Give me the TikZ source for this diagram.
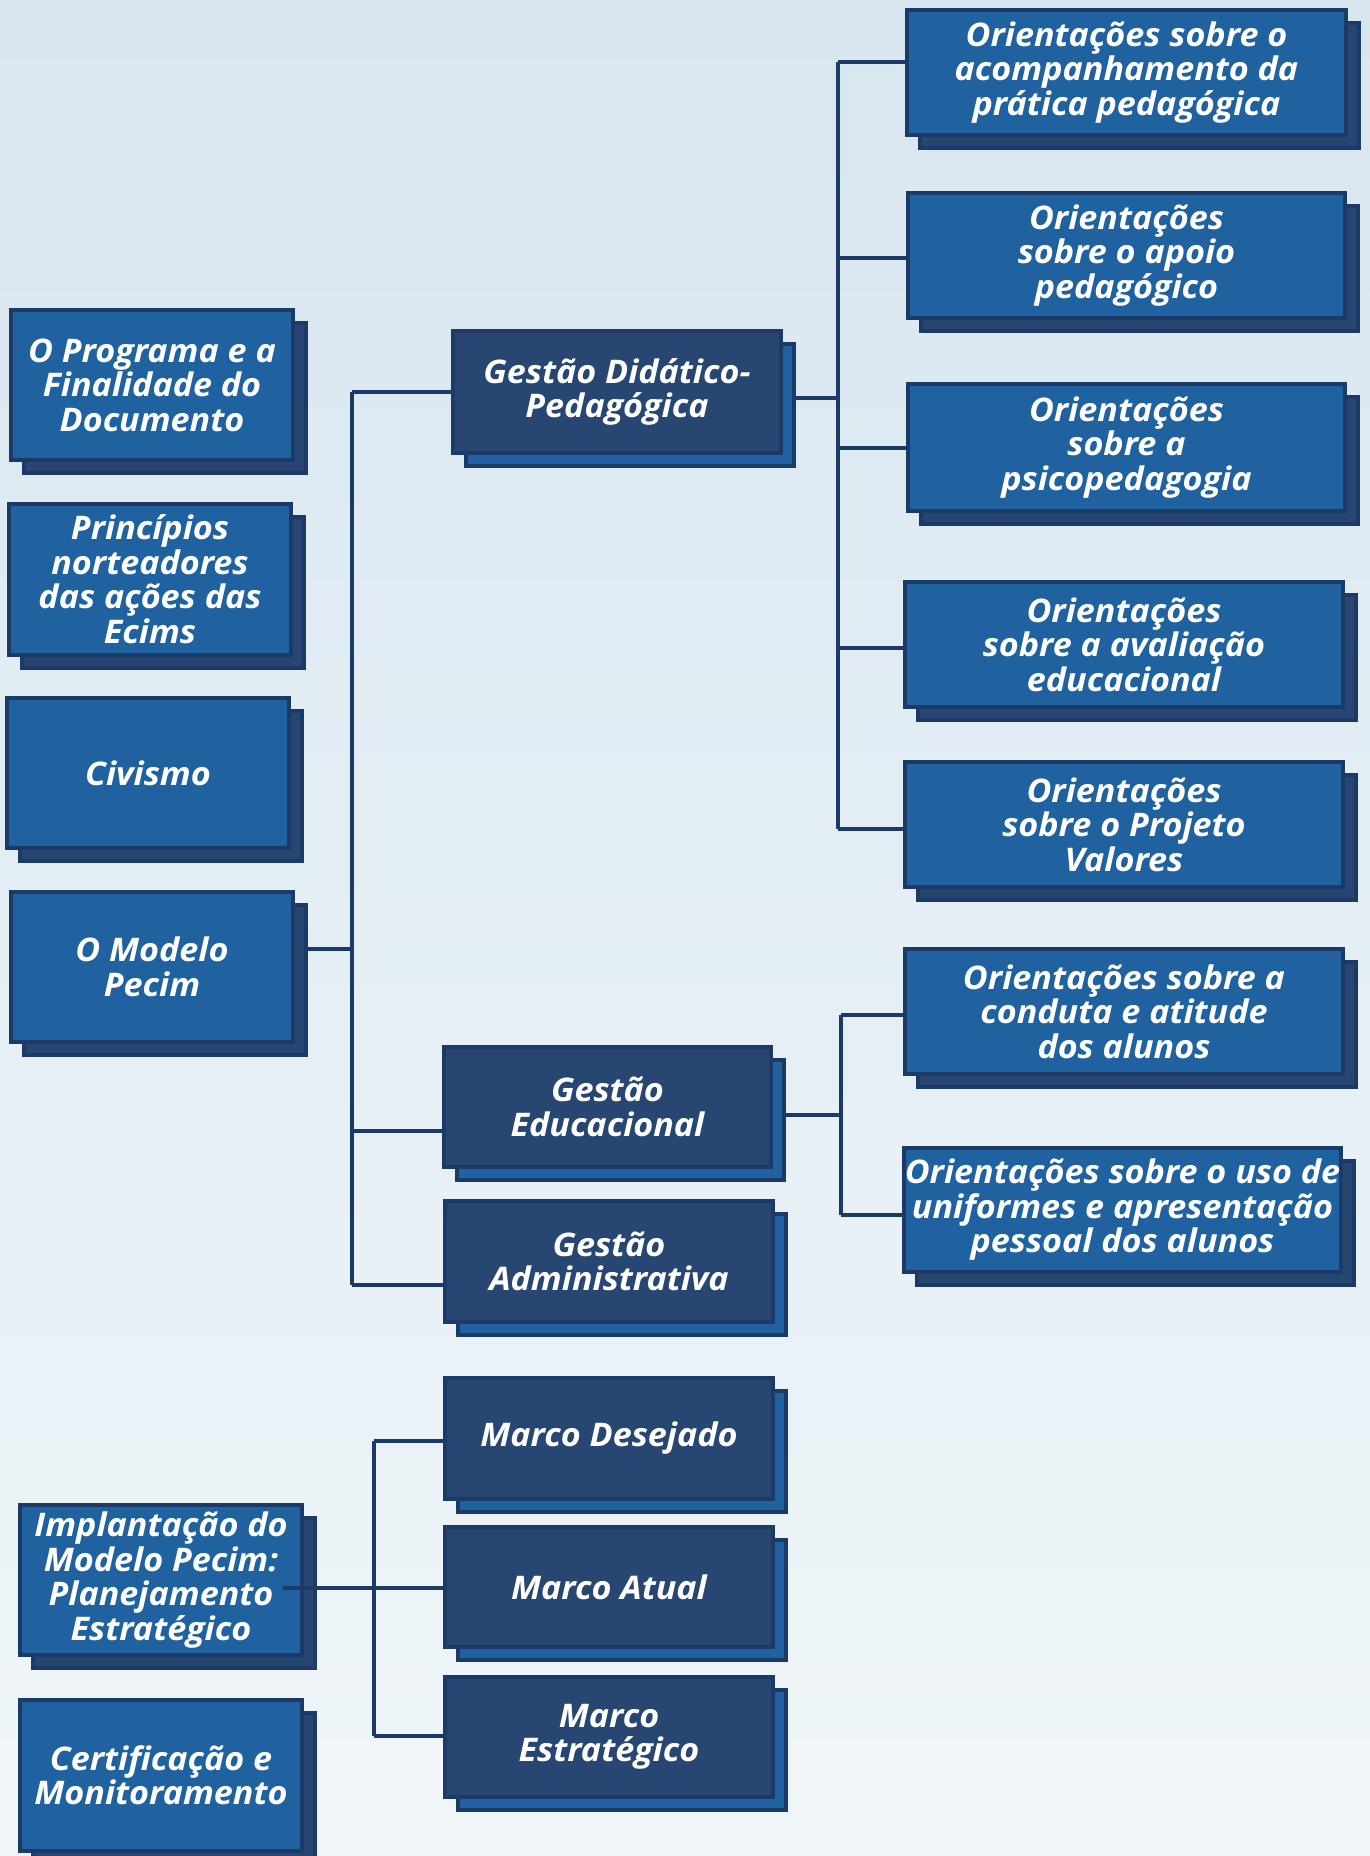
\documentclass[tikz,border=0pt]{standalone}
\usepackage{fontspec}
\setmainfont{Open Sans}
\newfontfamily\boxfont{Open Sans}[FakeStretch=1.05]
\usetikzlibrary{shadows,calc}
\definecolor{lb}{RGB}{32,98,160}
\definecolor{db}{RGB}{39,70,114}
\definecolor{bd}{RGB}{27,58,104}
\definecolor{bgtop}{RGB}{216,230,240}
\definecolor{bgbot}{RGB}{240,246,249}
\tikzset{
  base/.style={rectangle, draw=bd, line width=4pt, text=white, align=center, inner sep=0pt,
    font=\boxfont\fontsize{32.5pt}{34.5pt}\selectfont\bfseries\itshape},
  lbox/.style={base, fill=lb,
    copy shadow={shadow xshift=13pt, shadow yshift=-13pt, fill=db, draw=bd, line width=4pt}},
  dbox/.style={base, fill=db,
    copy shadow={shadow xshift=13pt, shadow yshift=-13pt, fill=lb, draw=bd, line width=4pt}},
  conn/.style={draw=bd, line width=3.5pt}
}
\begin{document}
\begin{tikzpicture}[x=1pt,y=-1pt]
\path[top color=bgtop, bottom color=bgbot] (0,0) rectangle (1370,1856);
\useasboundingbox (0,0) rectangle (1370,1856);

% left column
\node[lbox, minimum width=282pt, minimum height=150pt] (pf) at (152,385) {O Programa e a\\Finalidade do\\Documento};
\node[lbox, minimum width=282pt, minimum height=151pt] (pn) at (150,579) {Princípios\\norteadores\\das ações das\\Ecims};
\node[lbox, minimum width=282pt, minimum height=150pt] (civ) at (148,773) {Civismo};
\node[lbox, minimum width=282pt, minimum height=150pt] (mp) at (152,967) {O Modelo\\Pecim};
\node[lbox, minimum width=282pt, minimum height=150pt] (imp) at (161,1580) {Implantação do\\Modelo Pecim:\\Planejamento\\Estratégico};
\node[lbox, minimum width=282pt, minimum height=151pt] (cert) at (161,1775) {Certificação e\\Monitoramento};

% middle column
\node[dbox, minimum width=328pt, minimum height=122pt] (gdp) at (617,392) {Gestão Didático-\\Pedagógica};
\node[dbox, minimum width=327pt, minimum height=120pt] (ge) at (607.5,1107) {Gestão\\Educacional};
\node[dbox, minimum width=328pt, minimum height=121pt] (ga) at (609,1261.5) {Gestão\\Administrativa};
\node[dbox, minimum width=328pt, minimum height=121pt] (md) at (609,1438.5) {Marco Desejado};
\node[dbox, minimum width=328pt, minimum height=120pt] (ma) at (609,1587) {Marco Atual};
\node[dbox, minimum width=328pt, minimum height=120pt] (me) at (609,1737) {Marco\\Estratégico};

% right column
\node[lbox, minimum width=439pt, minimum height=125pt] (o1) at (1126.5,72.5) {Orientações sobre o\\acompanhamento da\\prática pedagógica};
\node[lbox, minimum width=437pt, minimum height=125pt] (o2) at (1126.5,255.5) {Orientações\\sobre o apoio\\pedagógico};
\node[lbox, minimum width=437pt, minimum height=127pt] (o3) at (1126.5,447.5) {Orientações\\sobre a\\psicopedagogia};
\node[lbox, minimum width=438pt, minimum height=125pt] (o4) at (1124,644.5) {Orientações\\sobre a avaliação\\educacional};
\node[lbox, minimum width=438pt, minimum height=125pt] (o5) at (1124,824.5) {Orientações\\sobre o Projeto\\Valores};
\node[lbox, minimum width=438pt, minimum height=125pt] (o6) at (1124,1011.5) {Orientações sobre a\\conduta e atitude\\dos alunos};
\node[lbox, minimum width=437pt, minimum height=124pt] (o7) at (1122.5,1210) {Orientações sobre o uso de\\uniformes e apresentação\\pessoal dos alunos};

% trunk coordinates
\coordinate (lt) at (352,0);
\coordinate (rt) at (838,0);
\coordinate (et) at (841,0);
\coordinate (bt) at (374,0);

% left trunk
\coordinate (mpb) at ($(mp.east)+(13,-18)$);
\coordinate (geb) at ($(ge.west)+(0,24)$);
\coordinate (gab) at ($(ga.west)+(0,23.5)$);
\draw[conn] (lt |- gdp.west) -- (lt |- gab);
\draw[conn] (lt |- gdp.west) -- (gdp.west);
\draw[conn] (mpb) -- (lt |- mpb);
\draw[conn] (lt |- geb) -- (geb);
\draw[conn] (lt |- gab) -- (gab);

% right trunk (GDP)
\coordinate (gdpb) at ($(gdp.east)+(13,6)$);
\coordinate (o1b) at ($(o1.west)+(0,-10.5)$);
\coordinate (o2b) at ($(o2.west)+(0,2.5)$);
\coordinate (o3b) at ($(o3.west)+(0,0.5)$);
\coordinate (o4b) at ($(o4.west)+(0,3.5)$);
\coordinate (o5b) at ($(o5.west)+(0,4.5)$);
\draw[conn] (gdpb) -- (rt |- gdpb);
\draw[conn] (rt |- o1b) -- (rt |- o5b);
\draw[conn] (rt |- o1b) -- (o1b);
\draw[conn] (rt |- o2b) -- (o2b);
\draw[conn] (rt |- o3b) -- (o3b);
\draw[conn] (rt |- o4b) -- (o4b);
\draw[conn] (rt |- o5b) -- (o5b);

% GE trunk
\coordinate (gerb) at ($(ge.east)+(13,8)$);
\coordinate (o6b) at ($(o6.west)+(0,3.5)$);
\coordinate (o7b) at ($(o7.west)+(0,5)$);
\draw[conn] (gerb) -- (et |- gerb);
\draw[conn] (et |- o6b) -- (et |- o7b);
\draw[conn] (et |- o6b) -- (o6b);
\draw[conn] (et |- o7b) -- (o7b);

% bottom trunk
\coordinate (impb) at ($(imp.east)+(-21,8)$);
\coordinate (mdb) at ($(md.west)+(0,2.5)$);
\coordinate (mab) at ($(ma.west)+(0,1)$);
\coordinate (meb) at ($(me.west)+(0,-1)$);
\draw[conn] (bt |- mdb) -- (bt |- meb);
\draw[conn] (impb) -- (bt |- impb);
\draw[conn] (bt |- mdb) -- (mdb);
\draw[conn] (bt |- mab) -- (mab);
\draw[conn] (bt |- meb) -- (meb);
\end{tikzpicture}
\end{document}
